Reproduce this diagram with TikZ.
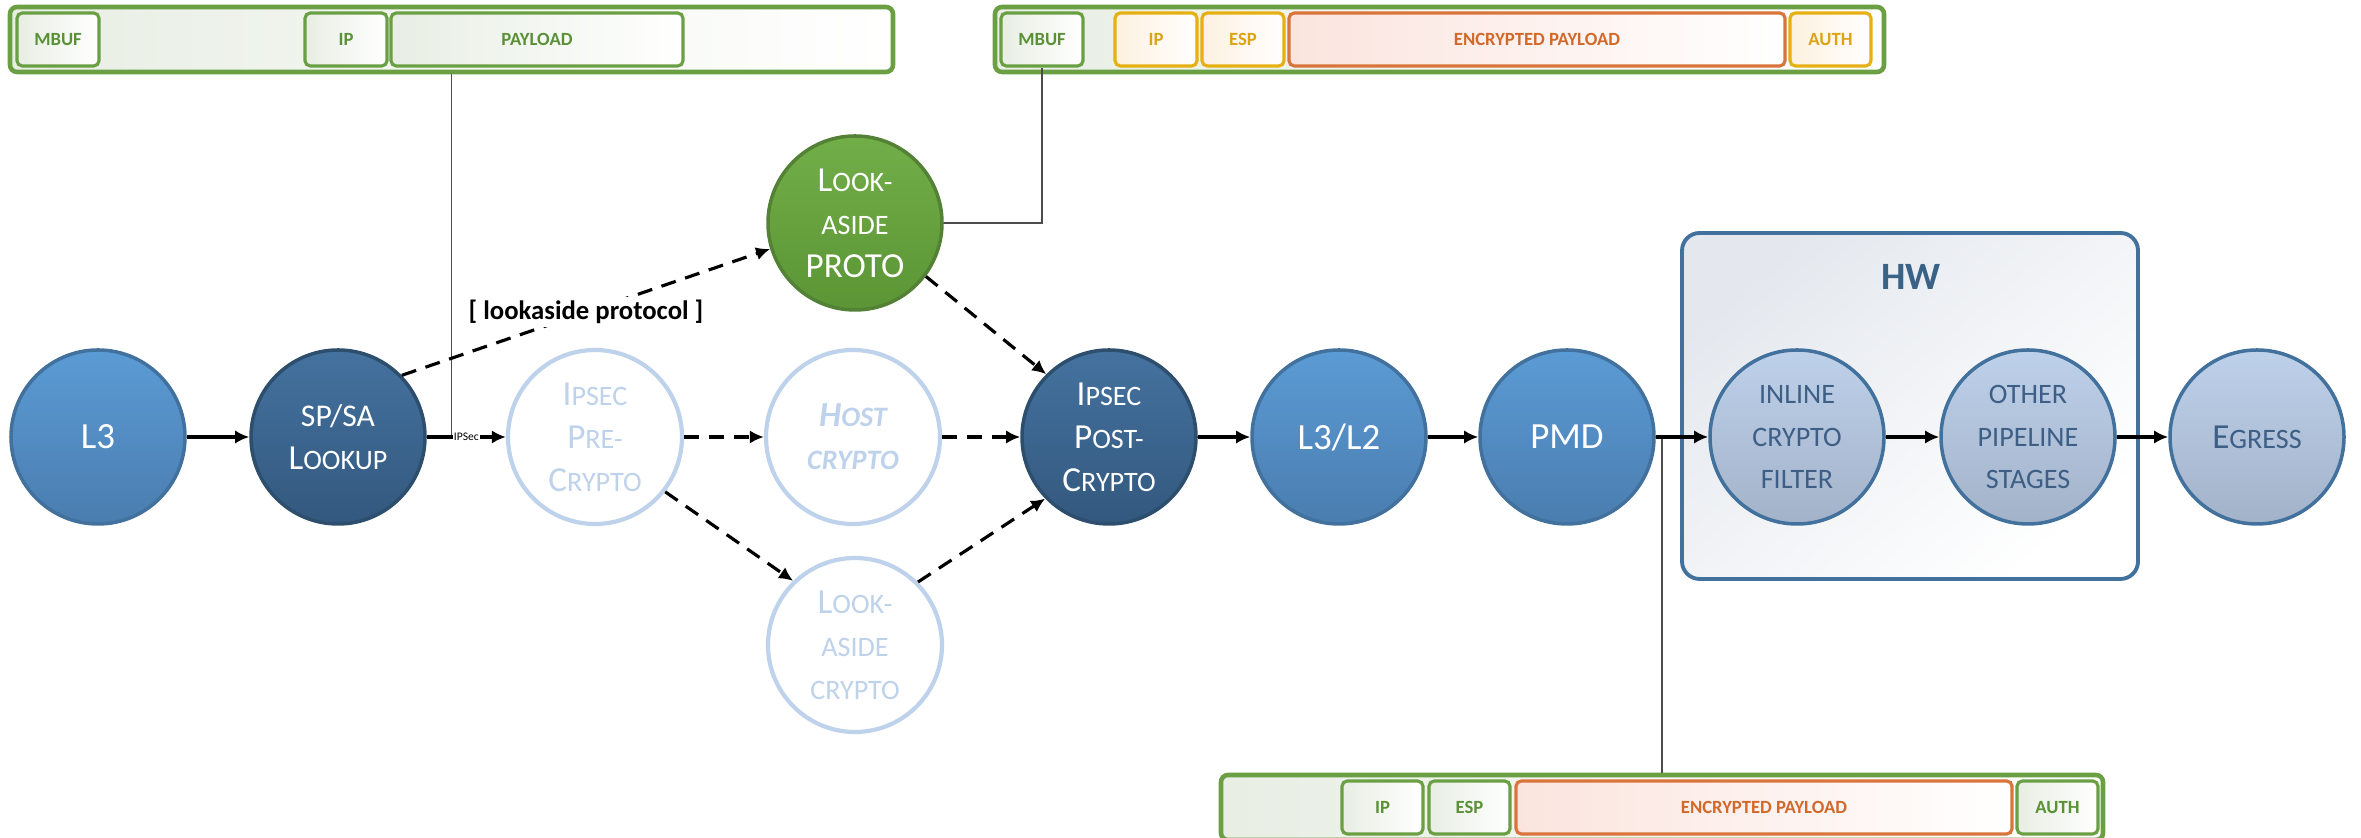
\documentclass[tikz,border=0pt]{standalone}
\usepackage{fontspec}
\setmainfont{Carlito}
\usetikzlibrary{arrows.meta}

\definecolor{bluetop}{HTML}{5B9BD5}
\definecolor{bluebot}{HTML}{4A7DAF}
\definecolor{blueline}{HTML}{41719C}
\definecolor{darktop}{HTML}{44729F}
\definecolor{darkbot}{HTML}{33587E}
\definecolor{darkline}{HTML}{2E4E6E}
\definecolor{greentop}{HTML}{72AE48}
\definecolor{greenbot}{HTML}{5B9535}
\definecolor{greenline}{HTML}{538135}
\definecolor{paletop}{HTML}{BED1EA}
\definecolor{palebot}{HTML}{A2B2C9}
\definecolor{paletext}{HTML}{3D5E85}
\definecolor{ghost}{HTML}{BFD2EB}
\definecolor{hwtop}{HTML}{E4E8EE}
\definecolor{hwtext}{HTML}{3A6186}
\definecolor{pktgreen}{HTML}{6AA043}
\definecolor{pktgreentext}{HTML}{5A9136}
\definecolor{pktgreenfill}{HTML}{E8EEE4}
\definecolor{pktorange}{HTML}{D9743A}
\definecolor{pktorangetext}{HTML}{D2692B}
\definecolor{pktorangefill}{HTML}{FBE4DE}
\definecolor{pktgold}{HTML}{E6B012}
\definecolor{pktgoldtext}{HTML}{DCA314}
\definecolor{pktgoldfill}{HTML}{FDF1E0}

% bigger first letter for the small caps look
\newcommand\initcap[1]{{\fontsize{10}{12.2}\selectfont #1}}

\begin{document}
\begin{tikzpicture}[>={Latex[length=4pt,width=3.8pt]},
  stage/.style={circle,minimum size=1.74cm,inner sep=0pt,align=center,
    line width=1pt,font=\fontsize{8}{12.2}\selectfont},
  bluestage/.style={stage,draw=blueline,top color=bluetop,bottom color=bluebot,text=white},
  darkstage/.style={stage,draw=darkline,top color=darktop,bottom color=darkbot,text=white},
  greenstage/.style={stage,draw=greenline,top color=greentop,bottom color=greenbot,text=white},
  palestage/.style={stage,draw=blueline,top color=paletop,bottom color=palebot,text=paletext},
  ghoststage/.style={stage,draw=ghost,line width=1.2pt,fill=white,text=ghost},
  flow/.style={->,line width=0.9pt},
  dashflow/.style={->,line width=0.9pt,dash pattern=on 4.3pt off 2.8pt},
  callout/.style={draw=black!70,line width=0.35pt},
  pktwrap/.style={draw=pktgreen,line width=1.3pt,rounded corners=2pt,minimum height=0.65cm,
    left color=pktgreenfill,right color=white},
  pkt/.style={line width=0.9pt,rounded corners=1.5pt,minimum height=0.53cm,inner sep=0pt,
    font=\fontsize{5.3}{6}\selectfont\bfseries},
  gpkt/.style={pkt,draw=pktgreen,left color=pktgreenfill,right color=white,text=pktgreentext},
  opkt/.style={pkt,draw=pktorange,left color=pktorangefill,right color=white,text=pktorangetext},
  ypkt/.style={pkt,draw=pktgold,left color=pktgoldfill,right color=white,text=pktgoldtext}]
\useasboundingbox (0,0) rectangle (23.61,8.38);

% hardware box
\draw[blueline,line width=1.1pt,rounded corners=5pt,top color=hwtop,bottom color=white,shading angle=40]
  (16.82,2.59) rectangle (21.38,6.05);
\node[text=hwtext,font=\fontsize{11}{12}\selectfont\bfseries] (hw) at (19.11,5.61) {HW};

% packet layouts
\node[pktwrap,minimum width=8.83cm] (tlbox) at (4.515,7.985) {};
\node[gpkt,minimum width=0.82cm] (tlmbuf) at (0.58,7.985) {MBUF};
\node[gpkt,minimum width=0.82cm] (tlip) at (3.46,7.985) {IP};
\node[gpkt,minimum width=2.92cm] (tlpay) at (5.37,7.985) {PAYLOAD};

\node[pktwrap,minimum width=8.89cm] (trbox) at (14.395,7.985) {};
\node[gpkt,minimum width=0.82cm] (trmbuf) at (10.42,7.985) {MBUF};
\node[ypkt,minimum width=0.82cm] (trip) at (11.56,7.985) {IP};
\node[ypkt,minimum width=0.82cm] (tresp) at (12.43,7.985) {ESP};
\node[opkt,minimum width=4.96cm] (trenc) at (15.37,7.985) {ENCRYPTED PAYLOAD};
\node[ypkt,minimum width=0.81cm] (trauth) at (18.305,7.985) {AUTH};

\node[pktwrap,minimum width=8.82cm] (btbox) at (16.62,0.305) {};
\node[gpkt,minimum width=0.81cm] (btip) at (13.825,0.305) {IP};
\node[gpkt,minimum width=0.81cm] (btesp) at (14.695,0.305) {ESP};
\node[opkt,minimum width=4.96cm] (btenc) at (17.64,0.305) {ENCRYPTED PAYLOAD};
\node[gpkt,minimum width=0.81cm] (btauth) at (20.575,0.305) {AUTH};

% stages
\node[bluestage,font=\fontsize{10.5}{12}\selectfont] (l3) at (0.98,4.01) {L3};
\node[darkstage] (spsa) at (3.38,4.01) {{\fontsize{9}{12.2}\selectfont SP/SA}\\\initcap{L}OOKUP};
\node[ghoststage] (pre) at (5.95,4.01) {\initcap{I}PSEC\\\initcap{P}RE-\\\initcap{C}RYPTO};
\node[ghoststage,font=\fontsize{8}{12.2}\selectfont\bfseries\itshape] (host) at (8.53,4.01)
  {\initcap{H}OST\\CRYPTO};
\node[greenstage] (proto) at (8.55,6.15) {\initcap{L}OOK-\\ASIDE\\\initcap{PROTO}};
\node[ghoststage] (lacrypto) at (8.55,1.93) {\initcap{L}OOK-\\ASIDE\\CRYPTO};
\node[darkstage] (post) at (11.09,4.01) {\initcap{I}PSEC\\\initcap{P}OST-\\\initcap{C}RYPTO};
\node[bluestage,font=\fontsize{10.5}{12}\selectfont] (l3l2) at (13.39,4.01) {L3/L2};
\node[bluestage,font=\fontsize{10.5}{12}\selectfont] (pmd) at (15.67,4.01) {PMD};
\node[palestage] (inline) at (17.97,4.01) {INLINE\\CRYPTO\\FILTER};
\node[palestage] (other) at (20.28,4.01) {OTHER\\PIPELINE\\STAGES};
\node[palestage] (egress) at (22.57,4.01) {\initcap{E}GRESS};

% callouts
\draw[callout] (tlbox.south) -- (tlbox.south |- spsa.east);
\draw[callout] (trmbuf.south) |- (proto.east);
\draw[callout] (btbox.north) -- (btbox.north |- pmd.east);

% connectors
\draw[flow] (l3) -- (spsa);
\draw[flow] (spsa) -- node[fill=white,inner sep=0.3pt,font=\fontsize{3.3}{4}\selectfont] (ipsec) {IPSec} (pre);
\draw[dashflow] (pre) -- (host);
\draw[dashflow] (host) -- (post);
\draw[dashflow] (spsa.44) -- node[fill=white,inner sep=1pt,font=\fontsize{7.6}{9}\selectfont\bfseries]
  (lalabel) {[ lookaside protocol ]} (proto.197);
\draw[dashflow] (pre.-38) -- (lacrypto.134);
\draw[dashflow] (lacrypto.45) -- (post.224);
\draw[dashflow] (proto.-37) -- (post.135);
\draw[flow] (post) -- (l3l2);
\draw[flow] (l3l2) -- (pmd);
\draw[flow] (pmd) -- (inline);
\draw[flow] (inline) -- (other);
\draw[flow] (other) -- (egress);
\end{tikzpicture}
\end{document}
